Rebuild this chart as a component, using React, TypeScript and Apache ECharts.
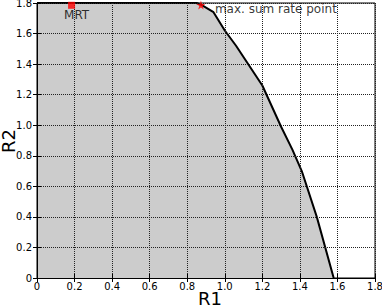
import React, { useEffect, useRef } from "react";
import * as echarts from "echarts";

const xTicks = [0, 0.2, 0.4, 0.6, 0.8, 1.0, 1.2, 1.4, 1.6, 1.8];
const yTicks = [0, 0.2, 0.4, 0.6, 0.8, 1.0, 1.2, 1.4, 1.6, 1.8];
const regionBoundary: [number, number][] = [
  [0, 1.8], [0.85, 1.8], [0.88, 1.785], [0.94, 1.74], [1.0, 1.62], [1.06, 1.52],
  [1.2, 1.26], [1.3, 0.99], [1.36, 0.84], [1.41, 0.7], [1.49, 0.4], [1.58, 0],
];
const mrtPoint: [number, number] = [0.184, 1.785];
const maxSumPoint: [number, number] = [0.873, 1.787];

const STAR = "path://M50,0 L61,35 L98,35 L68,57 L79,91 L50,70 L21,91 L32,57 L2,35 L39,35 Z";
const FONT = "DejaVu Sans";

export default function App() {
  const ref = useRef<HTMLDivElement>(null);
  useEffect(() => {
    if (!ref.current) return;
    const chart = echarts.init(ref.current, null, { renderer: "svg" });
    const fmt = (v: number) => (v === 0 ? "0" : v.toFixed(1));
    const split = { show: true, lineStyle: { color: "#222", type: [1, 1] as any, width: 1 } };
    chart.setOption({
      animation: false,
      backgroundColor: "#fff",
      grid: {
        left: 37, right: 7, top: 3, bottom: 27, show: true, borderColor: "#000", borderWidth: 1,
        containLabel: false, outerBoundsMode: "none",
      },
      graphic: [
        {
          type: "text", x: 210, y: 298, z: 10,
          style: { text: "R1", font: `18px "${FONT}"`, fill: "#000", align: "center", verticalAlign: "middle" },
        },
        {
          type: "text", x: 8.5, y: 141, rotation: Math.PI / 2, z: 10,
          style: { text: "R2", font: `18px "${FONT}"`, fill: "#000", align: "center", verticalAlign: "middle" },
        },
      ],
      xAxis: [
        {
          type: "value", min: 0, max: 1.8, interval: 0.2, z: 3,
          axisLine: { show: true, lineStyle: { color: "#000", width: 1 } },
          axisTick: { show: true, inside: true, length: 4, lineStyle: { color: "#000" } },
          axisLabel: { formatter: fmt, fontFamily: FONT, fontSize: 10, color: "#000", margin: 3 },
          splitLine: split,
        },
        {
          type: "value", min: 0, max: 1.8, interval: 0.2, position: "top", z: 3,
          axisLine: { show: true, lineStyle: { color: "#000", width: 1 } },
          axisTick: { show: true, inside: true, length: 4, lineStyle: { color: "#000" } },
          axisLabel: { show: false }, splitLine: { show: false },
        },
      ],
      yAxis: [
        {
          type: "value", min: 0, max: 1.8, interval: 0.2, z: 3,
          axisLine: { show: true, lineStyle: { color: "#000", width: 1 } },
          axisTick: { show: true, inside: true, length: 4, lineStyle: { color: "#000" } },
          axisLabel: { formatter: fmt, fontFamily: FONT, fontSize: 10, color: "#000", margin: 5 },
          splitLine: split,
        },
        {
          type: "value", min: 0, max: 1.8, interval: 0.2, position: "right", z: 3,
          axisLine: { show: true, lineStyle: { color: "#000", width: 1 } },
          axisTick: { show: true, inside: true, length: 4, lineStyle: { color: "#000" } },
          axisLabel: { show: false }, splitLine: { show: false },
        },
      ],
      series: [
        {
          type: "line", data: regionBoundary, symbol: "none", z: 2,
          lineStyle: { color: "#000", width: 2 },
          areaStyle: { color: "#cccccc", opacity: 1 },
        },
        {
          type: "scatter", data: [mrtPoint], symbol: "rect", symbolSize: 7, z: 5,
          itemStyle: { color: "#ff0000" },
          label: {
            show: true, formatter: "MRT", position: [-4, 7], align: "left", verticalAlign: "top",
            fontFamily: FONT, fontSize: 12, color: "#000",
          },
        },
        {
          type: "scatter", data: [maxSumPoint], symbol: STAR, symbolSize: 9, z: 5,
          itemStyle: { color: "#ff0000" },
          label: {
            show: true, formatter: "max. sum rate point", position: [18.5, 9], align: "left", verticalAlign: "middle",
            fontFamily: FONT, fontSize: 12, color: "#000",
          },
        },
      ],
    });
    return () => chart.dispose();
  }, []);
  return <div ref={ref} style={{ width: 382, height: 305, position: "absolute", left: 0, top: 0 }} />;
}
